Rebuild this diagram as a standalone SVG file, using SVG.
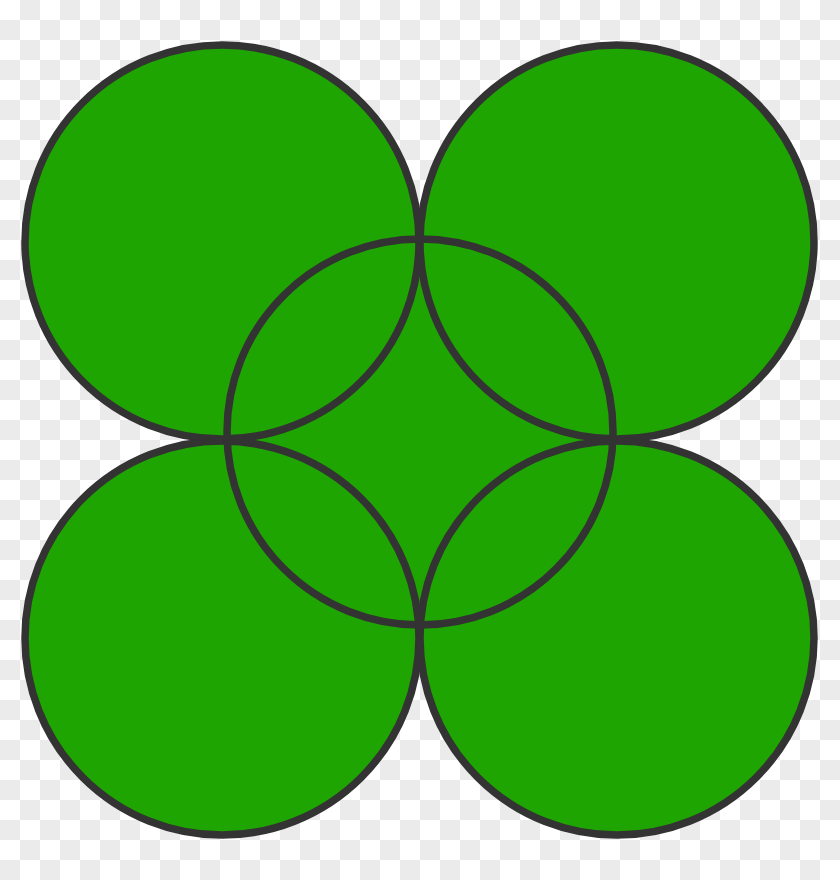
<svg xmlns="http://www.w3.org/2000/svg" width="840" height="880" viewBox="0 0 840 880">
  <defs>
    <pattern id="checker" x="0" y="0" width="40" height="40" patternUnits="userSpaceOnUse">
      <rect x="0" y="0" width="40" height="40" fill="#ffffff"/>
      <rect x="20" y="0" width="20" height="20" fill="#ebebeb"/>
      <rect x="0" y="20" width="20" height="20" fill="#ebebeb"/>
    </pattern>
    <style>
      .fill { fill: #1fa501; stroke: none; }
      .ring { fill: none; stroke: #333333; stroke-width: 7.5; }
    </style>
  </defs>
  <rect x="0" y="0" width="840" height="880" fill="url(#checker)"/>
  <g id="fills">
    <circle class="fill" cx="222" cy="242" r="197"/>
    <circle class="fill" cx="617" cy="242" r="197"/>
    <circle class="fill" cx="222" cy="638" r="197"/>
    <circle class="fill" cx="617" cy="638" r="197"/>
    <circle class="fill" cx="420" cy="432" r="193"/>
  </g>
  <g id="rings">
    <circle id="top-left" class="ring" cx="222" cy="242" r="197"/>
    <circle id="top-right" class="ring" cx="617" cy="242" r="197"/>
    <circle id="bottom-left" class="ring" cx="222" cy="638" r="197"/>
    <circle id="bottom-right" class="ring" cx="617" cy="638" r="197"/>
    <circle id="center" class="ring" cx="420" cy="432" r="193"/>
  </g>
</svg>
